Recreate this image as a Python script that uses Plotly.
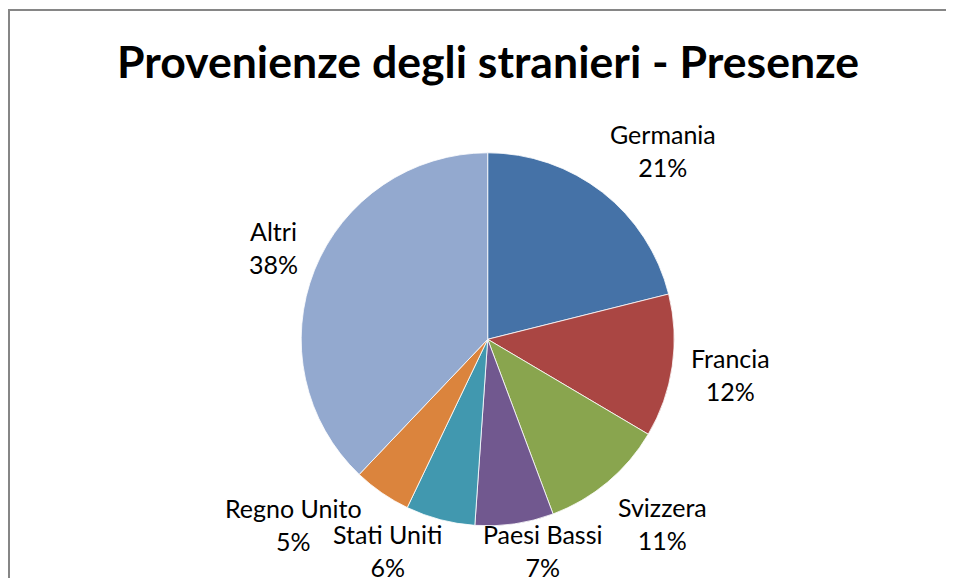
import math
import plotly.graph_objects as go

countries = ["Germania", "Francia", "Svizzera", "Paesi Bassi", "Stati Uniti", "Regno Unito", "Altri"]
shares = [21.1, 12.4, 10.8, 6.8, 6.0, 5.0, 37.9]
colors = ["#4572A7", "#AA4643", "#89A54E", "#71588F", "#4198AF", "#DB843D", "#93A9CF"]
title_text = "Provenienze degli stranieri - Presenze"

OFF = 8                      # browser body margin (page px)
W, H = 954 - OFF, 578 - OFF
CX, CY, R = 487.7, 339.3, 186.5   # pie centre / radius in page px
FS = 25                      # label font size
GAP = 18.5
YMAX = 550.0
LH = 55.0                    # height of a two-line label (glyph block)

CW = {"a": .52, "e": .53, "n": .56, "m": .84, "i": .23, "l": .23, "t": .33, "r": .36,
      "s": .42, "v": .50, "z": .45, "o": .56, "u": .56, "c": .47, "g": .50, " ": .19,
      "%": .77, "G": .70, "F": .50, "S": .52, "P": .58, "B": .61, "U": .69, "A": .65, "R": .60}


def tw(s):
    return sum(CW.get(ch, .58) for ch in s) * FS


def px(x):
    return (x - OFF) / W


def py(y):
    return 1 - (y - OFF) / H


def place(theta, w):
    ux, uy = math.sin(theta), -math.cos(theta)
    ax, ay = CX + (R + GAP) * ux, CY + (R + GAP) * uy
    sx = max(-1.0, min(1.0, 1.5 * ux))
    sy = max(-1.0, min(1.0, 1.5 * uy))
    x, y = ax + sx * w / 2, ay + sy * LH / 2
    if y > YMAX:
        y = YMAX
        top = y - LH / 2
        if x - w / 2 < CX < x + w / 2:
            x = CX - 3 + w / 2 if ux > 0 else CX + 3 - w / 2
        else:
            need = R + 3
            dy = top - CY
            if dy < need:
                dmin = math.sqrt(need ** 2 - dy ** 2)
                if ux > 0:
                    x = max(x, CX + dmin + w / 2)
                else:
                    x = min(x, CX - dmin - w / 2)
    return x, y


def boxes(x, y, w1, w2):
    return [(x - w1 / 2, x + w1 / 2, y - LH / 2, y), (x - w2 / 2, x + w2 / 2, y, y + LH / 2)]


def overlap(b1, b2, g=-4):
    for a in b1:
        for b in b2:
            if a[0] < b[1] + g and b[0] < a[1] + g and a[2] < b[3] + g and b[2] < a[3] + g:
                return True
    return False


total = sum(shares)
annotations = []
placed = []
cum = 0.0
for name, v in zip(countries, shares):
    mid = (cum + v / 2) / total * 2 * math.pi
    cum += v
    pct = f"{round(v / total * 100)}%"
    w1, w2 = tw(name), tw(pct)
    w = max(w1, w2)
    theta = mid
    for _ in range(90):
        x, y = place(theta, w)
        bx = boxes(x, y, w1, w2)
        hit = [t for (t, b) in placed if overlap(bx, b)]
        if not hit:
            break
        theta += math.radians(1) * (1 if mid > hit[0] else -1)
    placed.append((mid, bx))
    annotations.append(dict(
        x=px(x), y=py(y), xref="paper", yref="paper",
        xanchor="center", yanchor="middle", showarrow=False,
        text=f"{name}<br>{pct}", align="center",
        font=dict(family="Lato", size=FS, color="#000000"),
    ))

fig = go.Figure(go.Pie(
    labels=countries,
    values=shares,
    sort=False,
    direction="clockwise",
    rotation=0,
    marker=dict(colors=colors, line=dict(color="white", width=0.8)),
    textinfo="none",
    showlegend=False,
    hoverinfo="label+percent",
    domain=dict(x=[px(CX - R), px(CX + R)], y=[py(CY + R), py(CY - R)]),
))

border = dict(color="#868686", width=2)
fig.update_layout(
    width=W, height=H,
    margin=dict(l=0, r=0, t=0, b=0, autoexpand=False),
    paper_bgcolor="white",
    plot_bgcolor="white",
    title=dict(text="<b>" + title_text + "</b>", x=px(488), xanchor="center",
               y=py(62.5), yanchor="middle",
               font=dict(family="Lato", size=44.6, color="#000000")),
    annotations=annotations,
    shapes=[
        dict(type="line", xref="paper", yref="paper", x0=1 / W, x1=1 / W, y0=0, y1=1 - 2 / H, line=border),
        dict(type="line", xref="paper", yref="paper", x0=0, x1=1, y0=1 - 2 / H, y1=1 - 2 / H, line=border),
    ],
)

fig.write_html("out.html")
